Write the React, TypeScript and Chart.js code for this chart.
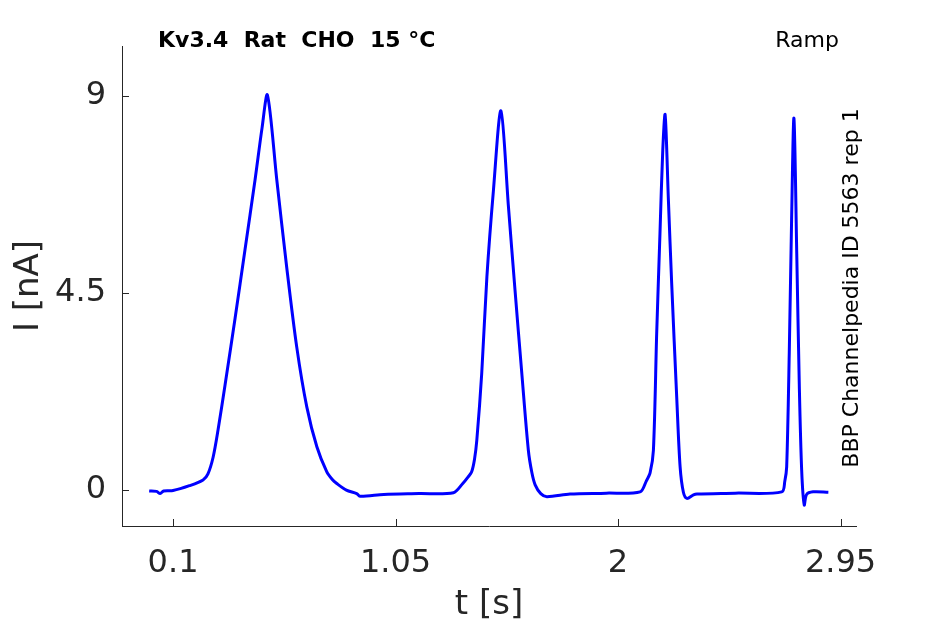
import React, { useEffect, useRef } from "react";
import { Chart, registerables } from "chart.js";

Chart.register(...registerables);

// ---- data ----
const timeS = [
  -0.002, 0.03, 0.045, 0.06, 0.1, 0.17, 0.228, 0.249, 0.271, 0.292, 0.322, 0.365, 0.407, 0.45, 0.48, 0.503,
  0.543, 0.585, 0.628, 0.671, 0.714, 0.756, 0.78, 0.799, 0.84, 0.884, 0.898, 1.0, 1.15, 1.297, 1.337, 1.36, 1.375, 1.387, 1.397,
  1.418, 1.44, 1.468, 1.5, 1.532, 1.56, 1.589, 1.617, 1.632, 1.646, 1.67, 1.696, 1.795, 1.95, 2.094, 2.12, 2.137,
  2.151, 2.165, 2.179, 2.191, 2.201, 2.215, 2.229, 2.251, 2.265, 2.279, 2.294, 2.322, 2.337, 2.5, 2.699,
  2.712, 2.72, 2.731, 2.741, 2.751, 2.763, 2.774, 2.784, 2.795, 2.805, 2.833, 2.898,
];
const currentNA = [
  -0.02, -0.03, -0.08, -0.02, -0.01, 0.1, 0.23, 0.37, 0.75, 1.37, 2.4, 3.93, 5.48, 7.08, 8.27, 9.02,
  7.08, 5.1, 3.27, 1.9, 0.99, 0.42, 0.24, 0.15, 0.0, -0.08, -0.14, -0.1, -0.08, -0.06, 0.15, 0.3, 0.42, 0.7, 1.14,
  2.67, 4.87, 6.85, 8.66, 6.47, 4.57, 2.67, 0.91, 0.4, 0.12, -0.08, -0.15, -0.09, -0.07, -0.04, 0.2, 0.4,
  0.91, 3.58, 5.86, 7.77, 8.57, 6.62, 4.72, 2.06, 0.53, -0.05, -0.19, -0.11, -0.09, -0.07, -0.04,
  0.2, 0.53, 3.12, 6.17, 8.49, 5.41, 2.36, 0.46, -0.34, -0.1, -0.04, -0.05,
];
const xTicks = [0.1, 1.05, 2, 2.95];
const yTicks = [0, 4.5, 9];
const xLimits = [-0.118, 3.016];
const yLimits = [-0.82, 10.14];

const titleText = "Kv3.4  Rat  CHO  15 °C";
const protocolText = "Ramp";
const sideText = "BBP Channelpedia ID 5563 rep 1";
const xLabel = "t [s]";
const yLabel = "I [nA]";

const FONT = "'DejaVu Sans', sans-serif";
const AXIS_COLOR = "#262626";

const decorPlugin = {
  id: "decor",
  afterDraw(chart: any) {
    const ctx = chart.ctx as CanvasRenderingContext2D;
    const { left, top, bottom } = chart.chartArea;
    const xs = chart.scales.x;
    const ys = chart.scales.y;
    ctx.save();
    // inward tick marks
    ctx.strokeStyle = AXIS_COLOR;
    ctx.lineWidth = 1;
    ctx.beginPath();
    xs.ticks.forEach((t: any) => {
      const px = Math.round(xs.getPixelForValue(t.value)) + 0.5;
      ctx.moveTo(px, bottom);
      ctx.lineTo(px, bottom - 7);
    });
    ys.ticks.forEach((t: any) => {
      const py = Math.round(ys.getPixelForValue(t.value)) + 0.5;
      ctx.moveTo(left, py);
      ctx.lineTo(left + 7, py);
    });
    ctx.stroke();

    // title texts
    ctx.fillStyle = "#000";
    ctx.textBaseline = "alphabetic";
    ctx.font = `bold 22px ${FONT}`;
    ctx.textAlign = "left";
    ctx.fillText(titleText, 158, 47);
    ctx.font = `22px ${FONT}`;
    ctx.textAlign = "right";
    ctx.fillText(protocolText, 839, 47);

    // vertical side text
    ctx.translate(858, (top + bottom) / 2 + 2);
    ctx.rotate(-Math.PI / 2);
    ctx.font = `22px ${FONT}`;
    ctx.textAlign = "center";
    ctx.fillText(sideText, 0, 0);
    ctx.restore();
  },
};

export default function App() {
  const canvasRef = useRef<HTMLCanvasElement | null>(null);

  useEffect(() => {
    if (!canvasRef.current) return;
    const points = timeS.map((t, i) => ({ x: t, y: currentNA[i] }));
    const chart = new Chart(canvasRef.current, {
      type: "line",
      data: {
        datasets: [
          {
            data: points,
            borderColor: "#0000ff",
            borderWidth: 3,
            pointRadius: 0,
            fill: false,
            tension: 0.3,
            borderJoinStyle: "round",
          },
        ],
      },
      options: {
        animation: false,
        responsive: false,
        devicePixelRatio: 1,
        layout: { padding: { top: 46, right: 89, bottom: 0, left: 0 } },
        plugins: { legend: { display: false }, tooltip: { enabled: false }, title: { display: false } },
        scales: {
          x: {
            type: "linear",
            min: xLimits[0],
            max: xLimits[1],
            grid: { display: false, drawTicks: false },
            border: { display: true, color: AXIS_COLOR, width: 1 },
            afterBuildTicks: (scale: any) => {
              scale.ticks = xTicks.map((v) => ({ value: v }));
            },
            afterFit: (scale: any) => {
              scale.height = 98;
            },
            ticks: {
              color: AXIS_COLOR,
              font: { family: FONT, size: 32 },
              padding: 18,
              maxRotation: 0,
              autoSkip: false,
              callback: (v: any) => String(v),
            },
            title: {
              display: true,
              text: xLabel,
              color: AXIS_COLOR,
              font: { family: FONT, size: 34, lineHeight: 1.1 },
              padding: { top: 0, bottom: 0 },
            },
          },
          y: {
            type: "linear",
            min: yLimits[0],
            max: yLimits[1],
            grid: { display: false, drawTicks: false },
            border: { display: true, color: AXIS_COLOR, width: 1 },
            afterBuildTicks: (scale: any) => {
              scale.ticks = yTicks.map((v) => ({ value: v }));
            },
            afterFit: (scale: any) => {
              scale.width = 122;
            },
            ticks: {
              color: AXIS_COLOR,
              font: { family: FONT, size: 32 },
              padding: 16,
              autoSkip: false,
              callback: (v: any) => String(v),
            },
            title: {
              display: true,
              text: yLabel,
              color: AXIS_COLOR,
              font: { family: FONT, size: 34, lineHeight: 1.2 },
              padding: { top: 9, bottom: 0 },
            },
          },
        },
      },
      plugins: [decorPlugin],
    });
    return () => chart.destroy();
  }, []);

  return (
    <div style={{ position: "absolute", left: 0, top: 0, width: 945, height: 624, background: "#fff" }}>
      <canvas ref={canvasRef} width={945} height={624} style={{ width: 945, height: 624, display: "block" }} />
    </div>
  );
}
